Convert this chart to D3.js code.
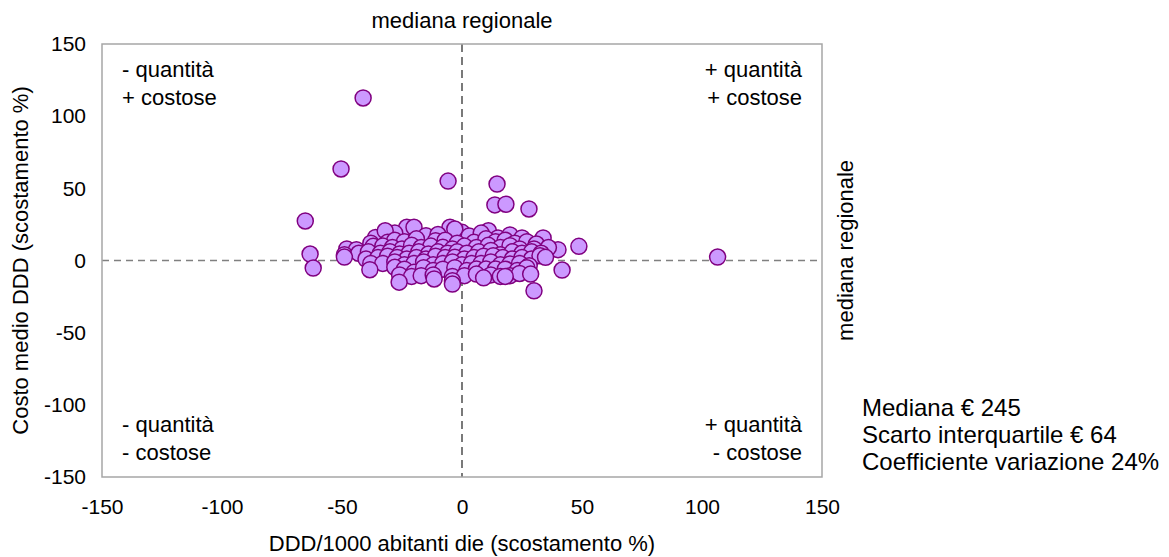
<!DOCTYPE html>
<html><head><meta charset="utf-8">
<script src="https://cdn.jsdelivr.net/npm/d3@7/dist/d3.min.js"></script>
<style>body{margin:0;background:#fff}text{font-family:Arial,"Liberation Sans",sans-serif;fill:#000}</style>
</head><body>
<svg id="c" width="1169" height="557"></svg>
<script>
const xTicks=[-150,-100,-50,0,50,100,150];
const yTicks=[-150,-100,-50,0,50,100,150];
const xTitle="DDD/1000 abitanti die (scostamento %)";
const yTitle="Costo medio DDD (scostamento %)";
const medianLabel="mediana regionale";
const quadLabels=[["- quantità","+ costose"],["+ quantità","+ costose"],["- quantità","- costose"],["+ quantità","- costose"]];
const stats=["Mediana € 245","Scarto interquartile € 64","Coefficiente variazione 24%"];
// scatter points (x: DDD deviation %, y: cost deviation %)
const xValues=[-41.2,-50.4,-65.3,-63.3,-62,-5.8,14.6,13.7,18.3,27.9,106.5,48.7,40,41.7,30,33.8,
 -23,-20,-5,0,11,-28,
 -36,-32,-15,-10,-3,3,8,15,20,25,
 -38,-31,-28,-24,-19,-11,-7,-2,5,10,14,18,22,27,31,
 -48,-44,-37,-33,-29,-25,-21,-17,-13,-8,-4,1,6,11,16,20,24,30,36,
 -49,-43,-39,-34,-30,-26,-22,-18,-14,-10,-6,-2,2,7,12,16,21,25,29,33,
 -49,-40,-35,-31,-27,-23,-19,-15,-11,-7,-3,1,5,9,13,17,21,25,29,32.5,34.8,
 -38,-33,-28,-24,-20,-16,-12,-8,-4,0,4,8,12,16,20,24,28,
 -38.4,-28,-24,-20,-16,-12,-8,-3,2,6,10,14,18,23,27,
 -26,-21,-17,-12,-4,1,6,12,16,20,24,28.6,
 -26.2,-11.6,-4,-4,9,18];
const yValues=[112.6,63.4,27.4,4.5,-5.2,55,53,38.5,39,35.7,2.4,9.8,7.5,-6.6,-21,15.6,
 23,23,23,19.5,20.6,19,
 16,20.6,17.2,18,21.8,17,19,15.6,17.7,15.6,
 12,12.6,14,13,15,13.7,14,12,12.6,15,13,14,12,13,11.4,
 8,7.5,9.8,10,9,8,10.5,9,10,9.1,8,10,9,10.5,9,10.3,8,8,9,
 4,5,6,5,6,4.5,5,6,4.5,6,5,6,5,6,7,4,6,5,6,5,
 2.4,1,2,3,2,1,2,1,3,2,2.2,1,2,3,3.3,2,1,2,1,3.3,2.2,
 -2,-2,-1,-3,-2,-1,-3,-2,-1,-3,-2,-2,-1,-3,-2.4,-2,-3.6,
 -6.4,-4.7,-6,-8.2,-5,-7,-6,-5,-7,-5.9,-5.9,-5.9,-6,-7,-5,
 -10,-11,-10.5,-10,-11,-10.5,-9.4,-10,-11,-10.5,-9,-9.4,
 -15,-12.8,-14,-16.3,-12,-11];

const svg=d3.select("#c");
const L=102,R=822,T=44,B=477;
const x=d3.scaleLinear().domain([-150,150]).range([L,R]);
const y=d3.scaleLinear().domain([-150,150]).range([B,T]);
const fs=22, fsTick=21, fsStats=24;

// dashed median lines
svg.append("line").attr("x1",x(-150)).attr("x2",x(150)).attr("y1",y(0)).attr("y2",y(0))
 .attr("stroke","#808080").attr("stroke-width",1.6).attr("stroke-dasharray","7,5");
svg.append("line").attr("x1",x(0)).attr("x2",x(0)).attr("y1",y(150)).attr("y2",y(-150))
 .attr("stroke","#222").attr("stroke-width",1.2).attr("stroke-dasharray","8,5");

// points
const pts=xValues.map((v,i)=>[v,yValues[i]]);
svg.append("g").selectAll("circle").data(pts).join("circle")
 .attr("cx",d=>x(d[0])).attr("cy",d=>y(d[1])).attr("r",8)
 .attr("fill","#CC99FF").attr("stroke","#800080").attr("stroke-width",1.5);

// frame
svg.append("rect").attr("x",L).attr("y",T).attr("width",R-L).attr("height",B-T)
 .attr("fill","none").attr("stroke","#A6A6A6").attr("stroke-width",1.5);

// axes (labels only)
const fmt=d=>String(d);
const xa=svg.append("g").attr("transform",`translate(0,${B+22})`)
 .call(d3.axisBottom(x).tickValues(xTicks).tickSize(0).tickPadding(0).tickFormat(fmt));
const ya=svg.append("g").attr("transform",`translate(${L-16},0)`)
 .call(d3.axisLeft(y).tickValues(yTicks).tickSize(0).tickPadding(0).tickFormat(fmt));
[xa,ya].forEach(a=>{a.select(".domain").remove();a.selectAll("text").attr("font-size",fsTick).attr("font-family","Arial, Liberation Sans").attr("fill","#000");});
xa.selectAll("text").attr("dy","0.71em");

// titles
svg.append("text").attr("x",x(0)).attr("y",551).attr("text-anchor","middle").attr("font-size",fs).text(xTitle);
svg.append("text").attr("transform",`translate(28,${y(0)}) rotate(-90)`).attr("text-anchor","middle").attr("font-size",fs).text(yTitle);
svg.append("text").attr("x",x(0)).attr("y",28).attr("text-anchor","middle").attr("font-size",fs).text(medianLabel);
svg.append("text").attr("transform",`translate(853,${y(7)}) rotate(-90)`).attr("text-anchor","middle").attr("font-size",fs).text(medianLabel);

// quadrant labels
const qPos=[[122,"start",77],[802,"end",77],[122,"start",432],[802,"end",432]];
quadLabels.forEach((lines,i)=>{
 const p=qPos[i];
 lines.forEach((t,j)=>svg.append("text").attr("x",p[0]).attr("y",p[2]+j*28).attr("text-anchor",p[1]).attr("font-size",fs).text(t));
});
// stats
stats.forEach((t,i)=>svg.append("text").attr("x",862).attr("y",416+i*27).attr("font-size",fsStats).text(t));
</script></body></html>
